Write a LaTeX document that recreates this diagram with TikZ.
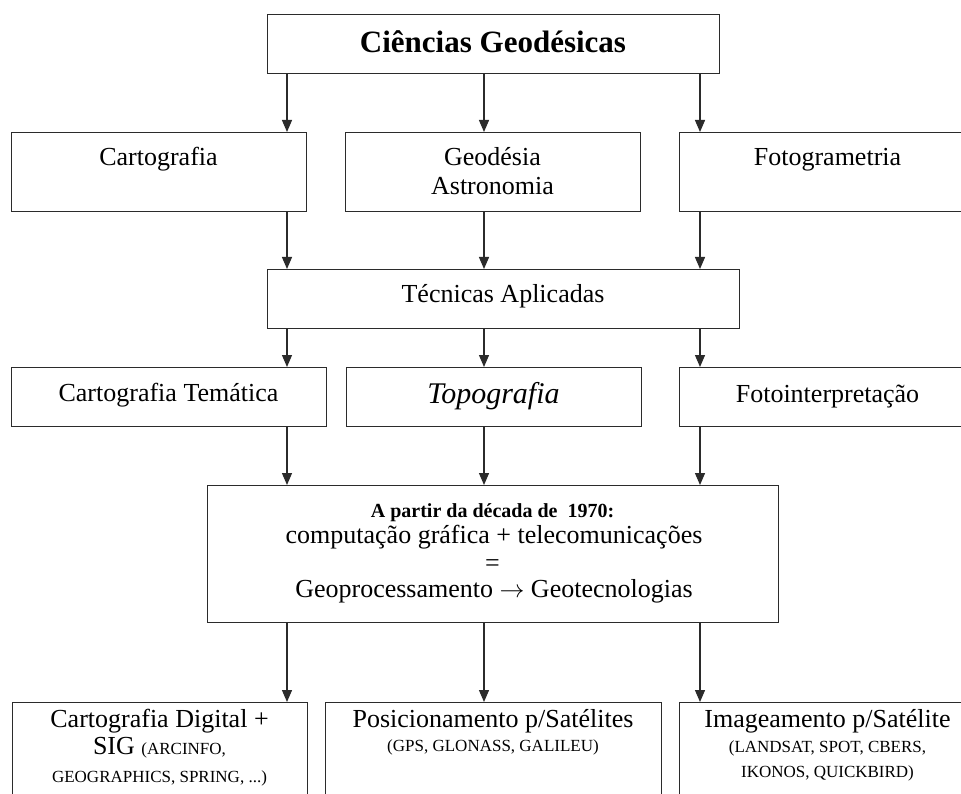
\documentclass[tikz,border=0pt]{standalone}
\usepackage{fontspec}
\setmainfont{Liberation Serif}
\usetikzlibrary{arrows.meta}
\definecolor{linec}{HTML}{2B2B2B}
\begin{document}
\begin{tikzpicture}[x=1pt,y=-1pt,
  box/.style={draw=linec, line width=1.3pt, fill=white, rectangle, inner sep=0pt, anchor=north west},
  arr/.style={draw=linec, line width=1.3pt, -{Triangle[length=12pt,width=10pt]}},
  lbl/.style={anchor=base, inner sep=0pt, text=black, font=\fontsize{26}{30}\selectfont},
  small/.style={anchor=base, inner sep=0pt, text=black, font=\fontsize{17}{20}\selectfont}]
\path[use as bounding box, clip] (0,0) rectangle (961,794);
\fill[white] (0,0) rectangle (961,794);
% boxes
\node[box, minimum width=452pt, minimum height=59pt] (top) at (267,14) {};
\node[box, minimum width=295pt, minimum height=79pt] (cart) at (11,132) {};
\node[box, minimum width=295pt, minimum height=79pt] (geo) at (345,132) {};
\node[box, minimum width=297pt, minimum height=79pt] (foto) at (679,132) {};
\node[box, minimum width=472pt, minimum height=59pt] (tec) at (267,269) {};
\node[box, minimum width=315pt, minimum height=59pt] (ctem) at (11,367) {};
\node[box, minimum width=295pt, minimum height=59pt] (topo) at (346,367) {};
\node[box, minimum width=297pt, minimum height=59pt] (fint) at (679,367) {};
\node[box, minimum width=571pt, minimum height=137pt] (big) at (207,485) {};
\node[box, minimum width=295pt, minimum height=120pt] (cdig) at (12,702) {};
\node[box, minimum width=336pt, minimum height=120pt] (pos) at (325,702) {};
\node[box, minimum width=297pt, minimum height=120pt] (img) at (679,702) {};
% arrow columns
\coordinate (c1) at (287,0);
\coordinate (c2) at (484,0);
\coordinate (c3) at (700,0);
% arrows
\draw[arr] (top.south -| c1) -- (cart.north -| c1);
\draw[arr] (top.south -| c2) -- (geo.north -| c2);
\draw[arr] (top.south -| c3) -- (foto.north -| c3);
\draw[arr] (cart.south -| c1) -- (tec.north -| c1);
\draw[arr] (geo.south -| c2) -- (tec.north -| c2);
\draw[arr] (foto.south -| c3) -- (tec.north -| c3);
\draw[arr] (tec.south -| c1) -- (ctem.north -| c1);
\draw[arr] (tec.south -| c2) -- (topo.north -| c2);
\draw[arr] (tec.south -| c3) -- (fint.north -| c3);
\draw[arr] (ctem.south -| c1) -- (big.north -| c1);
\draw[arr] (topo.south -| c2) -- (big.north -| c2);
\draw[arr] (fint.south -| c3) -- (big.north -| c3);
\draw[arr] (big.south -| c1) -- (cdig.north -| c1);
\draw[arr] (big.south -| c2) -- (pos.north -| c2);
\draw[arr] (big.south -| c3) -- (img.north -| c3);
% texts
\node[lbl, font=\bfseries\fontsize{31}{36}\selectfont] (ttop) at (493,53) {Ciências Geodésicas};
\node[lbl] (tcart) at (158.5,166) {Cartografia};
\node[lbl] (tgeo1) at (492.5,166) {Geodésia};
\node[lbl] (tgeo2) at (492.5,195) {Astronomia};
\node[lbl] (tfoto) at (827.5,166) {Fotogrametria};
\node[lbl] (ttec) at (503,302) {Técnicas Aplicadas};
\node[lbl] (tctem) at (168.5,401) {Cartografia Temática};
\node[lbl, font=\itshape\fontsize{30}{34}\selectfont] (ttopo) at (493.5,403) {Topografia};
\node[lbl] (tfint) at (827.5,402) {Fotointerpretação};
\node[lbl, font=\bfseries\fontsize{20}{24}\selectfont] (tb1) at (492.5,517) {A partir da década de\ \ 1970:};
\node[lbl] (tb2) at (494,543) {computação gráfica + telecomunicações};
\node[lbl, text height=11pt, text depth=0pt] (tb3) at (492.5,571) {=};
\node[lbl] (tb4) at (494,597) {Geoprocessamento $\rightarrow$ Geotecnologias};
\node[lbl] (td1) at (159.5,727) {Cartografia Digital +};
\node[lbl] (td2) at (159.5,754) {SIG {\fontsize{17}{20}\selectfont (ARCINFO,}};
\node[small] (td3) at (159.5,782) {GEOGRAPHICS, SPRING, ...)};
\node[lbl] (tp1) at (493,727) {Posicionamento p/Satélites};
\node[small] (tp2) at (493,751) {(GPS, GLONASS, GALILEU)};
\node[lbl] (ti1) at (827.5,727) {Imageamento p/Satélite};
\node[small] (ti2) at (827.5,752) {(LANDSAT, SPOT, CBERS,};
\node[small] (ti3) at (827.5,777) {IKONOS, QUICKBIRD)};
\end{tikzpicture}
\end{document}
